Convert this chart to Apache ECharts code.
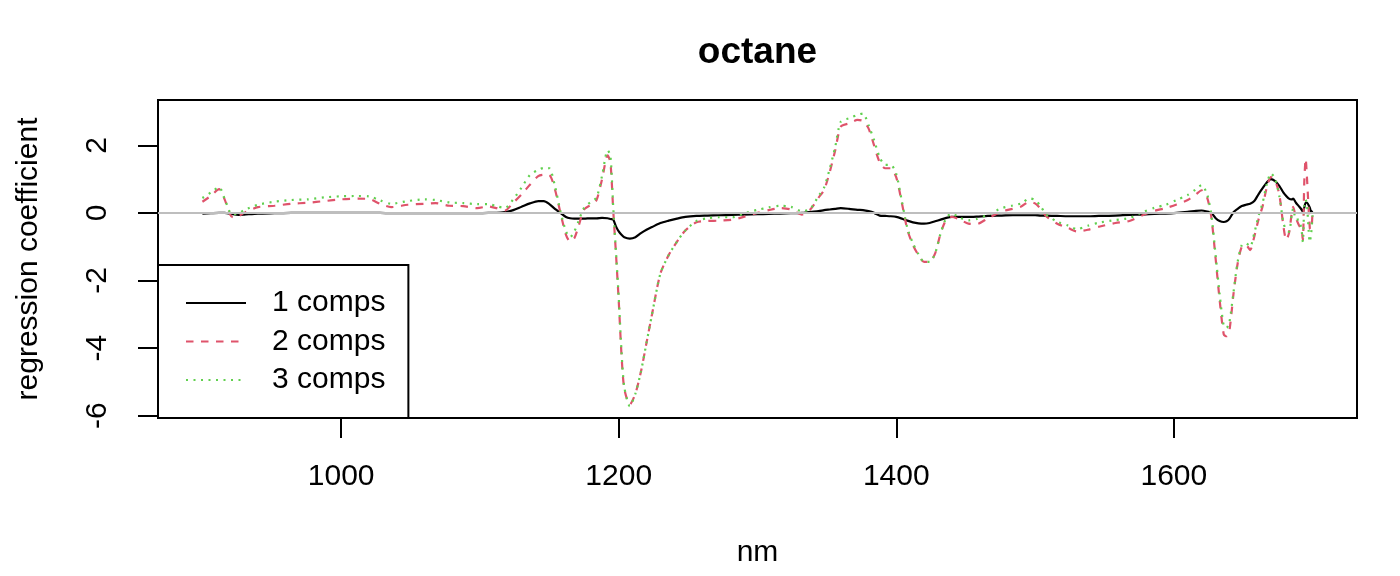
<!DOCTYPE html>
<html>
<head>
<meta charset="utf-8">
<script src="https://cdn.jsdelivr.net/npm/echarts@6/dist/echarts.min.js"></script>
<style>
html,body{margin:0;padding:0;background:#fff;}
#chart{width:1400px;height:576px;}
</style>
</head>
<body>
<div id="chart"></div>
<script>
// wavelength (nm)
const nm = [900,906,912,916,920,922,926,930,940,952,964,976,988,1000,1012,1020,1028,1036,1048,1060,1068,1078,1088,1098,1106,1112,1118,1124,1130,1136,1142,1146,1150,1154,1158,1162,1165,1168,1171,1175,1180,1184,1188,1192,1194,1196,1198,1200,1202,1204,1208,1212,1216,1220,1224,1230,1236,1242,1248,1256,1264,1272,1282,1290,1300,1308,1316,1324,1332,1338,1344,1348,1352,1356,1360,1366,1372,1376,1380,1384,1388,1392,1396,1400,1404,1408,1412,1416,1420,1424,1428,1432,1436,1440,1446,1452,1458,1466,1476,1484,1490,1496,1500,1504,1508,1516,1524,1530,1538,1546,1558,1568,1578,1586,1594,1602,1610,1616,1620,1624,1627,1630,1633,1636,1638,1640,1643,1646,1649,1652,1655,1658,1661,1664,1667,1670,1673,1676,1679,1681,1683,1685,1686,1688,1690,1692,1693,1694,1695,1696,1698,1699,1700];
// 1 component
const comp1 = [-0.02,-0.01,0.0,0.0,-0.02,-0.04,-0.06,-0.05,-0.02,-0.01,0,0,0,0,0,0,0,-0.01,-0.01,-0.01,-0.01,-0.01,-0.01,-0.01,0,0,0.02,0.08,0.18,0.28,0.35,0.35,0.26,0.12,0.0,-0.12,-0.16,-0.17,-0.17,-0.17,-0.16,-0.16,-0.15,-0.16,-0.18,-0.2,-0.4,-0.55,-0.65,-0.72,-0.76,-0.72,-0.6,-0.5,-0.42,-0.3,-0.23,-0.17,-0.12,-0.09,-0.08,-0.07,-0.06,-0.05,-0.04,-0.03,-0.02,-0.01,0.0,0.03,0.05,0.08,0.1,0.12,0.14,0.12,0.09,0.08,0.05,0.0,-0.08,-0.09,-0.1,-0.12,-0.17,-0.23,-0.28,-0.31,-0.32,-0.3,-0.25,-0.2,-0.15,-0.12,-0.12,-0.12,-0.11,-0.09,-0.08,-0.07,-0.07,-0.07,-0.07,-0.08,-0.08,-0.09,-0.1,-0.1,-0.1,-0.09,-0.08,-0.06,-0.05,-0.03,-0.02,0.0,0.03,0.06,0.07,0.04,0.0,-0.15,-0.24,-0.27,-0.25,-0.18,0.02,0.12,0.2,0.24,0.27,0.35,0.55,0.73,0.9,1.0,0.94,0.8,0.6,0.5,0.42,0.4,0.42,0.3,0.2,0.1,0.03,0.15,0.3,0.3,0.15,0.03,0.06];
// 2 components
const comp2 = [0.33,0.5,0.7,0.4,-0.05,-0.13,-0.1,0.0,0.17,0.21,0.27,0.3,0.35,0.4,0.42,0.41,0.27,0.17,0.24,0.27,0.29,0.21,0.2,0.14,0.19,0.14,0.07,0.3,0.55,0.83,1.09,1.13,1.12,0.7,0.0,-0.65,-0.85,-0.75,-0.4,0.1,0.24,0.38,1.0,1.7,1.5,0.1,-1.2,-2.6,-4.2,-5.2,-5.67,-5.35,-4.7,-3.85,-3.0,-1.8,-1.25,-0.85,-0.52,-0.28,-0.24,-0.23,-0.2,-0.12,0.0,0.08,0.14,0.1,-0.05,0.1,0.45,0.68,1.2,1.85,2.55,2.65,2.75,2.72,2.5,2.0,1.5,1.32,1.32,1.05,0.3,-0.5,-0.95,-1.25,-1.45,-1.45,-1.2,-0.6,-0.2,-0.12,-0.2,-0.32,-0.33,-0.16,0.04,0.12,0.19,0.33,0.28,0.12,-0.1,-0.32,-0.45,-0.55,-0.5,-0.41,-0.3,-0.24,-0.06,0.06,0.14,0.25,0.38,0.55,0.67,0.45,-0.12,-1.3,-2.57,-3.6,-3.65,-3.5,-2.4,-1.5,-1.0,-0.95,-1.1,-0.7,-0.2,0.2,0.75,1.06,0.95,0.55,-0.4,-0.8,-0.6,0.0,0.18,-0.15,-0.35,-0.5,-0.8,0.9,1.6,1.0,-0.45,-0.5,0.08];
// 3 components
const comp3 = [0.44,0.6,0.76,0.42,0.0,-0.04,-0.02,0.08,0.24,0.33,0.38,0.4,0.46,0.49,0.5,0.49,0.37,0.27,0.35,0.4,0.38,0.31,0.29,0.26,0.26,0.2,0.14,0.4,0.75,1.12,1.27,1.33,1.32,0.8,0.05,-0.55,-0.72,-0.55,-0.25,0.15,0.33,0.45,1.1,1.85,1.7,0.2,-1.15,-2.5,-4.1,-5.15,-5.72,-5.35,-4.7,-3.85,-3.0,-1.8,-1.25,-0.85,-0.52,-0.24,-0.16,-0.13,-0.13,-0.02,0.09,0.16,0.21,0.18,0.05,0.12,0.5,0.75,1.3,1.95,2.7,2.8,2.9,2.94,2.6,2.15,1.65,1.42,1.42,1.15,0.35,-0.45,-0.9,-1.22,-1.45,-1.45,-1.2,-0.6,-0.15,-0.02,-0.15,-0.22,-0.18,-0.05,0.14,0.22,0.28,0.43,0.38,0.2,-0.05,-0.26,-0.38,-0.48,-0.38,-0.29,-0.21,-0.15,0.03,0.15,0.24,0.38,0.53,0.7,0.82,0.55,-0.05,-1.2,-2.4,-3.35,-3.4,-3.25,-2.35,-1.45,-0.95,-0.9,-1.0,-0.6,-0.1,0.3,0.85,1.17,1.0,0.5,-0.3,-0.5,-0.56,-0.05,0.13,-0.2,-0.2,-0.5,-0.86,0.2,0.39,0.2,-0.86,-0.6,-0.07];
// tick labels
const xTicks = [1000,1200,1400,1600];
const yTicks = [-6,-4,-2,0,2];
const seriesNames = ['1 comps','2 comps','3 comps'];

const FONT = 'Liberation Sans, Arial, Helvetica, sans-serif';
const pairs = arr => nm.map((x,i) => [x, arr[i]]);

const chart = echarts.init(document.getElementById('chart'), null, {renderer:'canvas'});
chart.setOption({
  animation: false,
  backgroundColor: '#fff',
  grid: {left:158, top:100, right:43, bottom:158, show:true, borderColor:'#000', borderWidth:2, backgroundColor:'transparent'},
  xAxis: {
    type:'value', min:868, max:1732,
    axisLine:{show:false, onZero:false},
    splitLine:{show:false},
    axisTick:{show:true, inside:false, length:20, lineStyle:{color:'#000', width:2}, customValues:xTicks},
    axisLabel:{show:true, customValues:xTicks, formatter: v => String(v), margin:44, color:'#000', fontSize:30, lineHeight:30, fontFamily:FONT}
  },
  yAxis: {
    type:'value', min:-6.07, max:3.34,
    axisLine:{show:false, onZero:false},
    splitLine:{show:false},
    axisTick:{show:true, inside:false, length:20, lineStyle:{color:'#000', width:2}, customValues:yTicks},
    axisLabel:{show:true, customValues:yTicks, formatter: v => String(v), rotate:90, margin:45, color:'#000', fontSize:30, lineHeight:30, fontFamily:FONT}
  },
  legend: {
    orient:'vertical', left:158, top:265,
    padding:[23,23,23,27],
    itemGap:8.5, itemWidth:60, itemHeight:14,
    itemStyle:{opacity:0},
    backgroundColor:'#fff', borderColor:'#000', borderWidth:2, borderRadius:0,
    selectedMode:false,
    data: seriesNames,
    formatter: name => '{t|' + name + '}',
    textStyle:{color:'#000', fontSize:30, lineHeight:30, fontFamily:FONT,
      rich:{t:{padding:[0,0,0,21], color:'#000', fontSize:30, lineHeight:30, fontFamily:FONT}}}
  },
  graphic: [
    {type:'text', x:757.5, y:53, style:{text:'octane', font:'bold 37px ' + FONT, fill:'#000', textAlign:'center', textVerticalAlign:'middle'}},
    {type:'text', x:757.5, y:553, style:{text:'nm', font:'30px ' + FONT, fill:'#000', textAlign:'center', textVerticalAlign:'middle'}},
    {type:'text', x:29, y:259, rotation:Math.PI/2, style:{text:'regression coefficient', font:'30px ' + FONT, fill:'#000', textAlign:'center', textVerticalAlign:'middle'}}
  ],
  series: [
    {name:seriesNames[0], type:'line', data:pairs(comp1), symbol:'none', showSymbol:false, smooth:0.25,
     lineStyle:{color:'#000000', width:2.2, type:'solid'}, itemStyle:{color:'#000000'}},
    {name:seriesNames[1], type:'line', data:pairs(comp2), symbol:'none', showSymbol:false, smooth:0.25,
     lineStyle:{color:'#DF536B', width:2.2, type:[7.5,7.5]}, itemStyle:{color:'#DF536B'}},
    {name:seriesNames[2], type:'line', data:pairs(comp3), symbol:'none', showSymbol:false, smooth:0.25,
     lineStyle:{color:'#61D04F', width:2.2, type:[2,5.5]}, itemStyle:{color:'#61D04F'},
     markLine:{silent:true, symbol:['none','none'], label:{show:false}, animation:false,
       lineStyle:{color:'#BEBEBE', width:2, type:'solid'}, data:[{yAxis:0}]}}
  ]
});
</script>
</body>
</html>
